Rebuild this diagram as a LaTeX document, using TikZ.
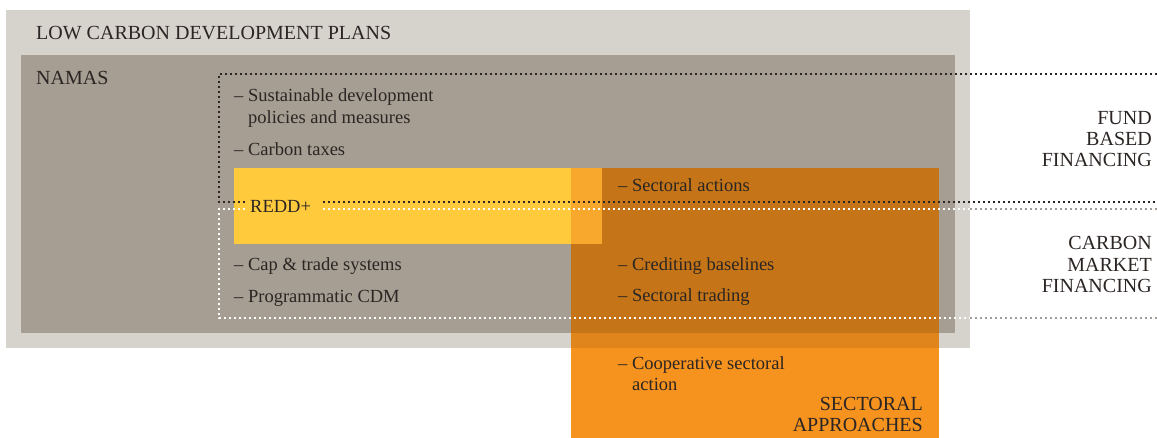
\documentclass[tikz,border=0pt]{standalone}
\usepackage{fontspec}
\setmainfont{Liberation Serif}
\definecolor{plangray}{HTML}{D6D3CD}
\definecolor{namagray}{HTML}{A69E93}
\definecolor{reddyellow}{HTML}{FFCA3C}
\definecolor{reddorange}{HTML}{F8A92D}
\definecolor{secorange}{HTML}{F6921E}
\definecolor{secondark}{HTML}{C57517}
\definecolor{seconlight}{HTML}{E0841C}
\definecolor{inktext}{HTML}{2B2523}
\definecolor{dotgray}{HTML}{A09B96}
\tikzset{
  item/.style={anchor=base west, inner sep=0pt, text=inktext,
    font=\fontsize{18.5}{22}\selectfont, align=left},
  caps/.style={anchor=base west, inner sep=0pt, text=inktext,
    font=\fontsize{20}{21.3}\selectfont},
  capsright/.style={anchor=base east, inner sep=0pt, text=inktext,
    font=\fontsize{20}{21.3}\selectfont, align=right},
  dotline/.style={line width=2.2pt, dash pattern=on 2.2pt off 2.8pt},
}
\begin{document}
\begin{tikzpicture}[x=1pt,y=-1pt]
\useasboundingbox (0,0) rectangle (1157,438);

% nested planning boxes
\fill[plangray] (6,10) rectangle (970,348);
\fill[namagray] (21,55) rectangle (955,333);

% sectoral approaches and its overlaps
\fill[secorange] (571,168) rectangle (939,438);
\fill[seconlight] (571,333) rectangle (939,348);
\fill[secondark] (571,168) rectangle (939,333);

% REDD+ band
\fill[reddyellow] (234,168) rectangle (571,244);
\fill[reddorange] (571,168) rectangle (602,244);

% labels
\node[caps] (lcdp) at (36,40) {LOW CARBON DEVELOPMENT PLANS};
\node[caps] (namas) at (36,85) {NAMAS};

\node[item] (sdpm) at (234,101.7) {– Sustainable development};
\node[item] (sdpm2) at (248,123.7) {policies and measures};
\node[item] (ctax) at (234,156) {– Carbon taxes};
\node[item] (redd) at (250,212.7) {REDD+};
\node[item] (cap) at (234,271) {– Cap \& trade systems};
\node[item] (pcdm) at (234,302.5) {– Programmatic CDM};

\node[item] (sact) at (618,191.7) {– Sectoral actions};
\node[item] (cred) at (618,270.5) {– Crediting baselines};
\node[item] (strade) at (618,301.7) {– Sectoral trading};
\node[item] (coop) at (618,370) {– Cooperative sectoral};
\node[item] (coop2) at (632,391) {action};

\node[capsright] (sect) at (923,410.7) {SECTORAL};
\node[capsright] (sect2) at (923,431.7) {APPROACHES};

\node[capsright] (fund) at (1152,124.3) {FUND};
\node[capsright] (fund2) at (1152,145.6) {BASED};
\node[capsright] (fund3) at (1152,166.9) {FINANCING};

\node[capsright] (cmf) at (1152,250) {CARBON};
\node[capsright] (cmf2) at (1152,271.3) {MARKET};
\node[capsright] (cmf3) at (1152,292.6) {FINANCING};

% fund based financing frame
\coordinate (fbTL) at (219,74);
\coordinate (fbTR) at (1157,74);
\coordinate (fbBL) at (219,202);
\coordinate (fbBR) at (1157,202);
\coordinate (reddL) at (245,202);
\coordinate (reddR) at (323,202);
\draw[dotline, inktext] (fbTR) -- (fbTL) -- (fbBL) -- (reddL);
\draw[dotline, inktext] (reddR) -- (fbBR);

% carbon market financing frame
\coordinate (cmTL) at (219,209);
\coordinate (cmBL) at (219,318);
\coordinate (cmTE) at (970,209);
\coordinate (cmBE) at (970,318);
\coordinate (cmTR) at (1157,209);
\coordinate (cmBR) at (1157,318);
\coordinate (cmGapL) at (245,209);
\coordinate (cmGapR) at (323,209);
\draw[dotline, white] (cmGapL) -- (cmTL) -- (cmBL) -- (cmBE);
\draw[dotline, white] (cmGapR) -- (cmTE);
\draw[dotline, dotgray] (cmTE) -- (cmTR);
\draw[dotline, dotgray] (cmBE) -- (cmBR);
\end{tikzpicture}
\end{document}
